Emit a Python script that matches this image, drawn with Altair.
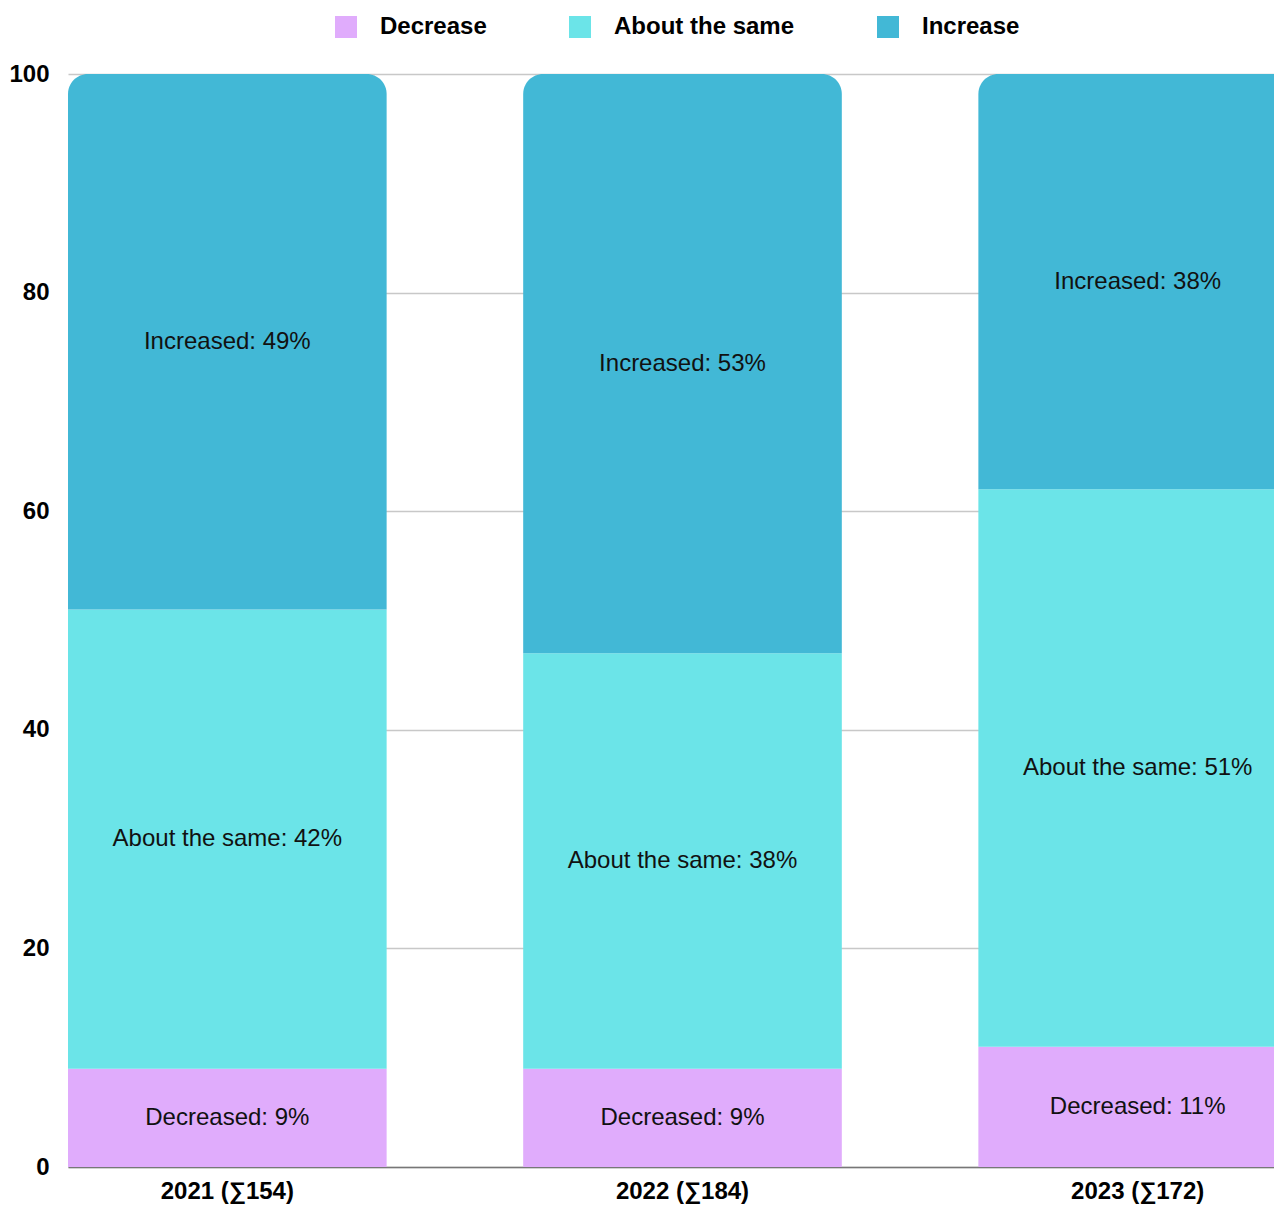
import altair as alt
import pandas as pd

years = ["2021 (∑154)", "2022 (∑184)", "2023 (∑172)"]
categories = ["Decrease", "About the same", "Increase"]
label_prefix = ["Decreased", "About the same", "Increased"]
decrease = [9, 9, 11]
same = [42, 38, 51]
increase = [49, 53, 38]
colors = ["#E0ACFC", "#6BE4E8", "#42B8D6"]

rows = []
for i, yr in enumerate(years):
    start = 0
    for cat, pref, vals in zip(categories, label_prefix, [decrease, same, increase]):
        v = vals[i]
        rows.append({
            "year": yr, "cat": cat, "value": v,
            "y0": start, "y1": start + v, "mid": start + v / 2,
            "label": f"{pref}: {v}%",
        })
        start += v
df = pd.DataFrame(rows)

FONT = "Liberation Sans"
FS = 24

x_scale = alt.Scale(paddingInner=0.3, paddingOuter=0, range=[0, 1229])
x_enc = alt.X("year:N", sort=years, scale=x_scale,
              axis=alt.Axis(title=None, labelAngle=0, ticks=False, tickSize=0,
                            labelPadding=12, labelFontSize=FS, labelFontWeight="bold",
                            labelColor="#000", labelFont=FONT, domainColor="#777",
                            domainWidth=1.5, grid=False))
y_scale = alt.Scale(domain=[0, 100], nice=False)
color_enc = alt.Color("cat:N", scale=alt.Scale(domain=categories, range=colors),
                      legend=alt.Legend(title=None, orient="none", legendX=266, legendY=-59,
                                        direction="horizontal", symbolType="square",
                                        symbolSize=484, symbolStrokeWidth=0,
                                        labelFontSize=FS, labelFontWeight="bold",
                                        labelFont=FONT, labelColor="#000", labelLimit=400,
                                        labelOffset=22, columnPadding=81))

base = alt.Chart(df)

bars_low = base.transform_filter(alt.datum.cat != "Increase").mark_bar().encode(
    x=x_enc,
    y=alt.Y("y0:Q", scale=y_scale,
            axis=alt.Axis(title=None, values=[0, 20, 40, 60, 80, 100], ticks=False, tickSize=0,
                          domain=False, labelPadding=19, labelFontSize=FS,
                          labelFontWeight="bold", labelColor="#000", labelFont=FONT,
                          gridColor="#c8c8c8", gridWidth=1.5)),
    y2="y1:Q",
    color=color_enc,
)

bars_top = base.transform_filter(alt.datum.cat == "Increase").mark_bar(
    cornerRadiusTopLeft=20, cornerRadiusTopRight=20).encode(
    x=alt.X("year:N", sort=years),
    y=alt.Y("y0:Q", scale=y_scale),
    y2="y1:Q",
    color=color_enc,
)

labels = base.mark_text(font=FONT, fontSize=FS, color="#111").encode(
    x=alt.X("year:N", sort=years),
    y=alt.Y("mid:Q", scale=y_scale),
    text="label:N",
)

chart = alt.layer(bars_low, bars_top, labels).properties(
    width=1206, height=1093,
    autosize=alt.AutoSizeParams(type="none"),
    padding={"left": 60, "top": 66, "right": 0, "bottom": 38},
).configure_view(stroke=None).configure_axis(labelFont=FONT)

chart.save("out.html", embed_options={"renderer": "svg", "actions": False})
